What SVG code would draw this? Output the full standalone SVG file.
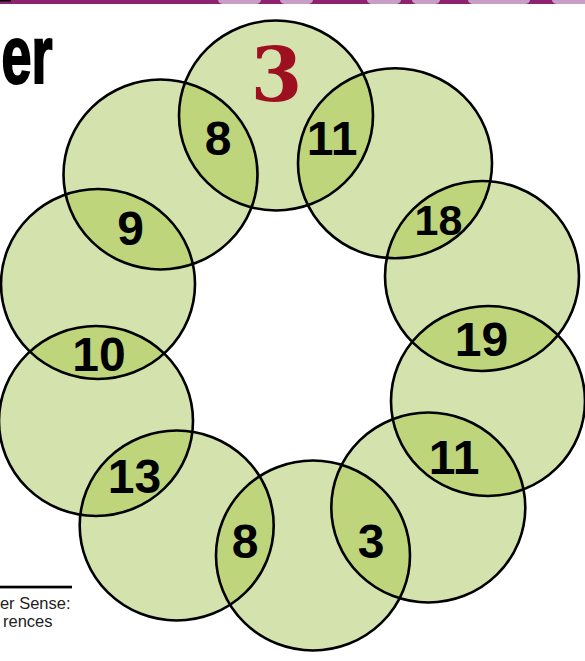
<svg xmlns="http://www.w3.org/2000/svg" xmlns:xlink="http://www.w3.org/1999/xlink" width="585" height="661" viewBox="0 0 585 661">
<style>
.base{fill:#d4e3ae;stroke:none}
.lens{fill:#bed57c;stroke:none}
.ring{fill:none;stroke:#000;stroke-width:2.6}
.num{font-family:"Liberation Sans",Arial,sans-serif;font-weight:bold;font-size:48px;text-anchor:middle;fill:#000}
.num18{font-size:43px}
.big3{font-family:"DejaVu Serif","Liberation Serif",serif;font-weight:bold;font-size:74px;text-anchor:middle;fill:#9e0f1f}
.cap{font-family:"Liberation Sans",Arial,sans-serif;font-size:16.5px;text-anchor:end;fill:#222}
.pink{fill:#c99ec5}
</style>
<defs>
<ellipse id="e1" cx="276" cy="115.5" rx="97" ry="95"/>
<ellipse id="e2" cx="395" cy="163.3" rx="97" ry="95"/>
<ellipse id="e3" cx="482" cy="276" rx="97" ry="95"/>
<ellipse id="e4" cx="488" cy="401" rx="97" ry="95"/>
<ellipse id="e5" cx="428.3" cy="507.5" rx="97" ry="95"/>
<ellipse id="e6" cx="313" cy="555.5" rx="97" ry="95"/>
<ellipse id="e7" cx="176.7" cy="525.5" rx="97" ry="95"/>
<ellipse id="e8" cx="96" cy="421" rx="97" ry="95"/>
<ellipse id="e9" cx="98" cy="284" rx="97" ry="95"/>
<ellipse id="e10" cx="160.5" cy="174.5" rx="97" ry="95"/>
<clipPath id="k1"><use xlink:href="#e1"/></clipPath>
<clipPath id="k2"><use xlink:href="#e2"/></clipPath>
<clipPath id="k3"><use xlink:href="#e3"/></clipPath>
<clipPath id="k4"><use xlink:href="#e4"/></clipPath>
<clipPath id="k5"><use xlink:href="#e5"/></clipPath>
<clipPath id="k6"><use xlink:href="#e6"/></clipPath>
<clipPath id="k7"><use xlink:href="#e7"/></clipPath>
<clipPath id="k8"><use xlink:href="#e8"/></clipPath>
<clipPath id="k9"><use xlink:href="#e9"/></clipPath>
<clipPath id="band"><rect x="0" y="0" width="585" height="4"/></clipPath>
</defs>
<rect width="585" height="661" fill="#fff"/>
<g id="top-band">
<rect x="0" y="0" width="585" height="4" fill="#8d2271"/>
<g clip-path="url(#band)">
<rect class="pink" x="218" y="-4" width="43" height="8" rx="5"/>
<rect class="pink" x="280" y="-4" width="33" height="8" rx="5"/>
<rect class="pink" x="367" y="-4" width="34" height="8" rx="5"/>
<rect class="pink" x="412" y="-4" width="28" height="8" rx="5"/>
<rect class="pink" x="468" y="-4" width="62" height="8" rx="5"/>
<rect class="pink" x="552" y="-4" width="40" height="8" rx="5"/>
</g>
<rect x="0" y="0" width="11" height="1.5" fill="#000"/>
</g>
<text x="1.5" y="82.5" font-family="'Liberation Sans Narrow','Liberation Sans',Arial,sans-serif" font-weight="bold" font-size="82" textLength="51" lengthAdjust="spacingAndGlyphs" fill="#000" stroke="#000" stroke-width="2.2">er</text>
<g id="fills">
<use xlink:href="#e1" class="base"/>
<use xlink:href="#e2" class="base"/>
<use xlink:href="#e3" class="base"/>
<use xlink:href="#e4" class="base"/>
<use xlink:href="#e5" class="base"/>
<use xlink:href="#e6" class="base"/>
<use xlink:href="#e7" class="base"/>
<use xlink:href="#e8" class="base"/>
<use xlink:href="#e9" class="base"/>
<use xlink:href="#e10" class="base"/>
</g>
<g id="overlaps">
<g id="lens-10-1"><use xlink:href="#e10" class="lens" clip-path="url(#k1)"/><text class="num" x="218" y="155">8</text></g>
<g id="lens-1-2"><use xlink:href="#e2" class="lens" clip-path="url(#k1)"/><text class="num" x="332" y="154.5">11</text></g>
<g id="lens-2-3"><use xlink:href="#e3" class="lens" clip-path="url(#k2)"/><text class="num num18" x="438.5" y="235">18</text></g>
<g id="lens-3-4"><use xlink:href="#e4" class="lens" clip-path="url(#k3)"/><text class="num" x="481.5" y="355.5">19</text></g>
<g id="lens-4-5"><use xlink:href="#e5" class="lens" clip-path="url(#k4)"/><text class="num" x="454" y="473.5">11</text></g>
<g id="lens-5-6"><use xlink:href="#e6" class="lens" clip-path="url(#k5)"/><text class="num" x="371" y="558">3</text></g>
<g id="lens-6-7"><use xlink:href="#e7" class="lens" clip-path="url(#k6)"/><text class="num" x="245" y="558">8</text></g>
<g id="lens-7-8"><use xlink:href="#e8" class="lens" clip-path="url(#k7)"/><text class="num" x="134.5" y="492.5">13</text></g>
<g id="lens-8-9"><use xlink:href="#e9" class="lens" clip-path="url(#k8)"/><text class="num" x="99" y="370.5">10</text></g>
<g id="lens-9-10"><use xlink:href="#e10" class="lens" clip-path="url(#k9)"/><text class="num" x="130.5" y="245">9</text></g>
</g>
<g id="circle-1"><use xlink:href="#e1" class="ring"/><text class="big3" x="276.5" y="100.5">3</text></g>
<g id="circle-2"><use xlink:href="#e2" class="ring"/></g>
<g id="circle-3"><use xlink:href="#e3" class="ring"/></g>
<g id="circle-4"><use xlink:href="#e4" class="ring"/></g>
<g id="circle-5"><use xlink:href="#e5" class="ring"/></g>
<g id="circle-6"><use xlink:href="#e6" class="ring"/></g>
<g id="circle-7"><use xlink:href="#e7" class="ring"/></g>
<g id="circle-8"><use xlink:href="#e8" class="ring"/></g>
<g id="circle-9"><use xlink:href="#e9" class="ring"/></g>
<g id="circle-10"><use xlink:href="#e10" class="ring"/></g>
<g id="caption">
<rect x="0" y="585.7" width="72" height="2.7" fill="#000"/>
<text class="cap" x="70.5" y="609.3">er Sense:</text>
<text class="cap" x="52.5" y="626.7">rences</text>
</g>
</svg>
